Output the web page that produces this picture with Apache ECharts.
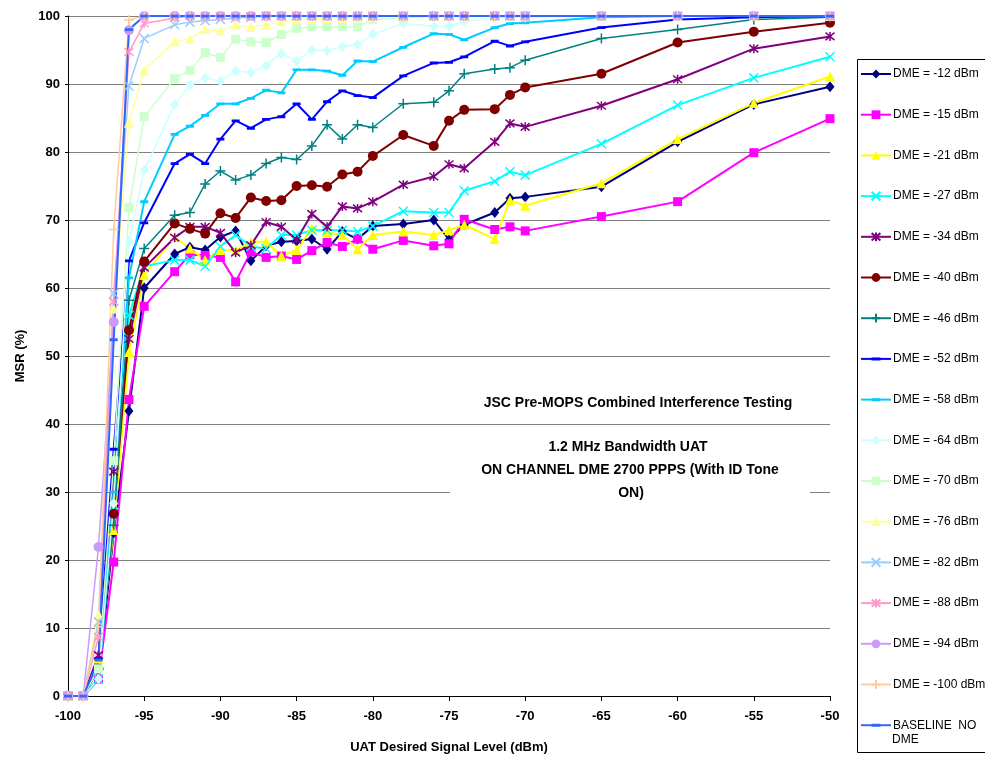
<!DOCTYPE html>
<html>
<head>
<meta charset="utf-8">
<script src="https://cdn.jsdelivr.net/npm/echarts@6/dist/echarts.min.js"></script>
<style>
html,body{margin:0;padding:0;background:#fff;}
#chart{width:985px;height:765px;}
</style>
</head>
<body>
<div id="chart"></div>
<script>
// UAT desired signal level (dBm) - measurement points
var xs = [-100,-99,-98,-97,-96,-95,-93,-92,-91,-90,-89,-88,-87,-86,-85,-84,-83,-82,-81,-80,-78,-76,-75,-74,-72,-71,-70,-65,-60,-55,-50];

var seriesNames = ['DME = -12 dBm','DME = -15 dBm','DME = -21 dBm','DME = -27 dBm','DME = -34 dBm','DME = -40 dBm','DME = -46 dBm','DME = -52 dBm','DME = -58 dBm','DME = -64 dBm','DME = -70 dBm','DME = -76 dBm','DME = -82 dBm','DME = -88 dBm','DME = -94 dBm','DME = -100 dBm','BASELINE  NO DME'];

var dme12  = [0,0,2.5,24,41.9,60,65,66,65.6,67.5,68.4,64,66.2,66.8,66.9,67.2,65.7,68.3,67.2,69.1,69.4,70,67.1,69.3,71.1,73.2,73.4,74.9,81.5,87,89.6];
var dme15  = [0,0,2.5,19.7,43.6,57.3,62.4,64.9,64.8,64.5,60.9,65.3,64.5,64.7,64.2,65.5,66.7,66.1,67.2,65.7,67.0,66.2,66.5,70.1,68.6,69.0,68.4,70.5,72.7,79.9,84.9];
var dme21  = [0,0,5.5,24.4,50.6,61.9,67.5,65.8,64.1,65.6,65.5,66.8,66.8,64.7,65.6,68.8,68.2,67.8,65.7,67.8,68.3,67.8,68.5,69.3,67.2,72.9,72.1,75.4,81.9,87.2,91.1];
var dme27  = [0,0,2.5,27,56,63.2,64.1,64.1,63.2,66.1,67.8,66.1,65.8,67.8,67.8,68.5,68.5,68.5,68.3,69.1,71.3,71.1,71.1,74.3,75.7,77.1,76.6,81.2,86.9,90.9,94];
var dme34  = [0,0,6,33,52.5,63,67.4,69,69,68.1,65.2,66.3,69.7,69,67.1,70.9,69,72,71.7,72.7,75.2,76.4,78.2,77.6,81.5,84.2,83.7,86.8,90.7,95.2,97];
var dme40  = [0,0,4,26.8,53.8,63.9,69.5,68.7,68,71,70.3,73.3,72.8,72.9,75,75.1,74.9,76.7,77.1,79.4,82.5,80.9,84.6,86.2,86.3,88.4,89.5,91.5,96.1,97.7,99];
var dme46  = [0,0,4,25.1,58.2,65.8,70.7,71.1,75.3,77.2,75.9,76.6,78.3,79.2,78.9,80.9,84,81.9,84,83.6,87.1,87.3,89,91.5,92.2,92.4,93.5,96.7,98,99.5,99.8];
var dme52  = [0,0,5.5,36.3,64,69.6,78.3,79.7,78.3,81.9,84.6,83.5,84.8,85.2,87.1,84.8,87.4,89,88.3,88,91.2,93.1,93.2,94,96.3,95.6,96.2,98.3,99.5,99.8,100];
var dme58  = [0,0,2.5,30,61.5,72.7,82.6,83.8,85.4,87.1,87.1,87.9,89.1,88.7,92.1,92.1,91.9,91.3,93.4,93.3,95.4,97.4,97.3,96.5,98.3,98.9,99,99.8,100,100,100];
var dme64  = [0,0,2.5,28.3,66.9,77.3,87,89.9,90.9,90.4,91.9,91.7,92.7,94.5,93.4,95,94.9,95.5,95.8,97.3,98.9,98.5,98.5,99.2,99.7,99.8,99.8,100,100,100,100];
var dme70  = [0,0,4,34.6,71.8,85.2,90.8,92,94.6,93.9,96.6,96.2,96.1,97.3,98.2,98.4,98.4,98.4,98.4,99.5,99.7,100,100,100,100,100,100,100,100,100,100];
var dme76  = [0,0,12,57,84.3,92,96.3,96.6,98.1,97.8,98.7,98.4,98.7,99.2,99.5,99.6,99.7,99.7,99.8,99.8,100,100,100,100,100,100,100,100,100,100,100];
var dme82  = [0,0,10.9,59.2,89.7,96.7,98.7,99.1,99.3,99.5,99.7,99.8,100,100,100,100,100,100,100,100,100,100,100,100,100,100,100,100,100,100,100];
var dme88  = [0,0,8.7,58,94.7,98.9,99.7,100,100,100,100,100,100,100,100,100,100,100,100,100,100,100,100,100,100,100,100,100,100,100,100];
var dme94  = [0,0,21.9,55,97.9,100,100,100,100,100,100,100,100,100,100,100,100,100,100,100,100,100,100,100,100,100,100,100,100,100,100];
var dme100 = [0,0,10.2,68.6,99.4,100,100,100,100,100,100,100,100,100,100,100,100,100,100,100,100,100,100,100,100,100,100,100,100,100,100];
var baseline = [0,0,5.3,52.4,98,100,100,100,100,100,100,100,100,100,100,100,100,100,100,100,100,100,100,100,100,100,100,100,100,100,100];

var xTicks = [-100,-95,-90,-85,-80,-75,-70,-65,-60,-55,-50];
var yTicks = [0,10,20,30,40,50,60,70,80,90,100];

var allValues = [dme12,dme15,dme21,dme27,dme34,dme40,dme46,dme52,dme58,dme64,dme70,dme76,dme82,dme88,dme94,dme100,baseline];

var X_PATH = 'path://M0,0L10,10M10,0L0,10';
var STAR_PATH = 'path://M0,0L10,10M10,0L0,10M5,-1L5,11';
var PLUS_PATH = 'path://M0,5L10,5M5,0L5,10';
// dash marker inside a square bounding box (corner points are zero-length, invisible)
var DASH_PATH = 'path://M0,0L0.01,0M0,3L9,3L9,6.2L0,6.2ZM9,9L9,9.01';

var styles = [
  {c:'#000080', s:'diamond', z:[9,11], w:2, stroke:false},
  {c:'#FF00FF', s:'rect', z:9, w:2, stroke:false},
  {c:'#FFFF00', s:'triangle', z:10, w:2, stroke:false},
  {c:'#00FFFF', s:X_PATH, z:9, w:2, stroke:true},
  {c:'#800080', s:STAR_PATH, z:9, w:2, stroke:true},
  {c:'#800000', s:'circle', z:10, w:2, stroke:false},
  {c:'#008080', s:PLUS_PATH, z:10, w:1.5, stroke:true},
  {c:'#0000FF', s:DASH_PATH, z:8, w:2, stroke:false},
  {c:'#00CCFF', s:DASH_PATH, z:8, w:2, stroke:false},
  {c:'#CCFFFF', s:'diamond', z:[9,11], w:1.5, stroke:false},
  {c:'#CCFFCC', s:'rect', z:9, w:1.5, stroke:false},
  {c:'#FFFF99', s:'triangle', z:10, w:1.5, stroke:false},
  {c:'#99CCFF', s:X_PATH, z:9, w:1.5, stroke:true},
  {c:'#FF99CC', s:STAR_PATH, z:9, w:1.5, stroke:true},
  {c:'#CC99FF', s:'circle', z:10, w:1.5, stroke:false},
  {c:'#FFCC99', s:PLUS_PATH, z:10, w:1.5, stroke:true},
  {c:'#3366FF', s:DASH_PATH, z:8, w:2, stroke:false}
];

var series = seriesNames.map(function(name, i){
  var st = styles[i];
  return {
    name: name,
    type: 'line',
    data: xs.map(function(x, k){ return [x, allValues[i][k]]; }),
    symbol: st.s,
    symbolSize: st.z,
    symbolKeepAspect: false,
    showAllSymbol: true,
    lineStyle: {color: st.c, width: st.w},
    itemStyle: {color: st.c, borderColor: st.c, borderWidth: st.stroke ? 1.5 : 0},
    emphasis: {disabled: true},
    z: 3
  };
});

var chart = echarts.init(document.getElementById('chart'), null, {renderer: 'canvas'});
var FONT = 'Arial, "Liberation Sans", sans-serif';
chart.setOption({
  animation: false,
  backgroundColor: '#ffffff',
  grid: {left: 68, right: 155, top: 16, bottom: 69, containLabel: false},
  xAxis: {
    type: 'value', min: -100, max: -50, interval: 5,
    name: 'UAT Desired Signal Level (dBm)', nameLocation: 'middle', nameGap: 45,
    nameTextStyle: {fontFamily: FONT, fontWeight: 'bold', fontSize: 13, color: '#000'},
    axisLine: {onZero: false, lineStyle: {color: '#000', width: 1}},
    axisTick: {show: true, inside: false, length: 5, lineStyle: {color: '#000'}},
    axisLabel: {fontFamily: FONT, fontWeight: 'bold', fontSize: 13, color: '#000', margin: 14,
      formatter: function(v){ return xTicks.indexOf(v) >= 0 ? String(v) : ''; }},
    splitLine: {show: false}
  },
  yAxis: {
    type: 'value', min: 0, max: 100, interval: 10,
    name: 'MSR (%)', nameLocation: 'middle', nameGap: 40, nameRotate: 90,
    nameTextStyle: {fontFamily: FONT, fontWeight: 'bold', fontSize: 13, color: '#000'},
    axisLine: {show: true, lineStyle: {color: '#000', width: 1}},
    axisTick: {show: true, length: 3, lineStyle: {color: '#000'}},
    axisLabel: {fontFamily: FONT, fontWeight: 'bold', fontSize: 13, color: '#000', margin: 8,
      formatter: function(v){ return yTicks.indexOf(v) >= 0 ? String(v) : ''; }},
    splitLine: {show: true, lineStyle: {color: '#808080', width: 1}}
  },
  legend: {
    type: 'plain',
    orient: 'vertical', left: 860, top: 67, height: 690, padding: 0,
    itemWidth: 30, itemHeight: 11, itemGap: 26.7,
    data: seriesNames,
    formatter: function(n){ return n === 'BASELINE  NO DME' ? 'BASELINE  NO' : n; },
    textStyle: {fontFamily: FONT, fontSize: 12, color: '#000', lineHeight: 14, padding: [0,0,0,-3]},
    selectedMode: false,
    z: 10
  },
  graphic: [
    {type: 'rect', left: 857, top: 59, z: 1, silent: true,
      shape: {width: 140, height: 693}, style: {fill: '#fff', stroke: '#000', lineWidth: 1}},
    {type: 'text', x: 892, y: 740, z: 11, silent: true,
      style: {text: 'DME', fontFamily: FONT, fontSize: 12, fill: '#000', align: 'left', verticalAlign: 'middle'}},
    {type: 'text', x: 638, y: 403, z: 5, silent: true,
      style: {text: 'JSC Pre-MOPS Combined Interference Testing', fontFamily: FONT, fontWeight: 'bold', fontSize: 14,
        fill: '#000', align: 'center', verticalAlign: 'middle'}},
    {type: 'rect', left: 450, top: 434, z: 4, silent: true,
      shape: {width: 360, height: 70}, style: {fill: '#fff'}},
    {type: 'text', x: 628, y: 447, z: 5, silent: true,
      style: {text: '1.2 MHz Bandwidth UAT', fontFamily: FONT, fontWeight: 'bold', fontSize: 14,
        fill: '#000', align: 'center', verticalAlign: 'middle'}},
    {type: 'text', x: 630, y: 470, z: 5, silent: true,
      style: {text: 'ON CHANNEL DME 2700 PPPS (With ID Tone', fontFamily: FONT, fontWeight: 'bold', fontSize: 14,
        fill: '#000', align: 'center', verticalAlign: 'middle'}},
    {type: 'text', x: 631, y: 493, z: 5, silent: true,
      style: {text: 'ON)', fontFamily: FONT, fontWeight: 'bold', fontSize: 14,
        fill: '#000', align: 'center', verticalAlign: 'middle'}}
  ],
  series: series
});
</script>
</body>
</html>
